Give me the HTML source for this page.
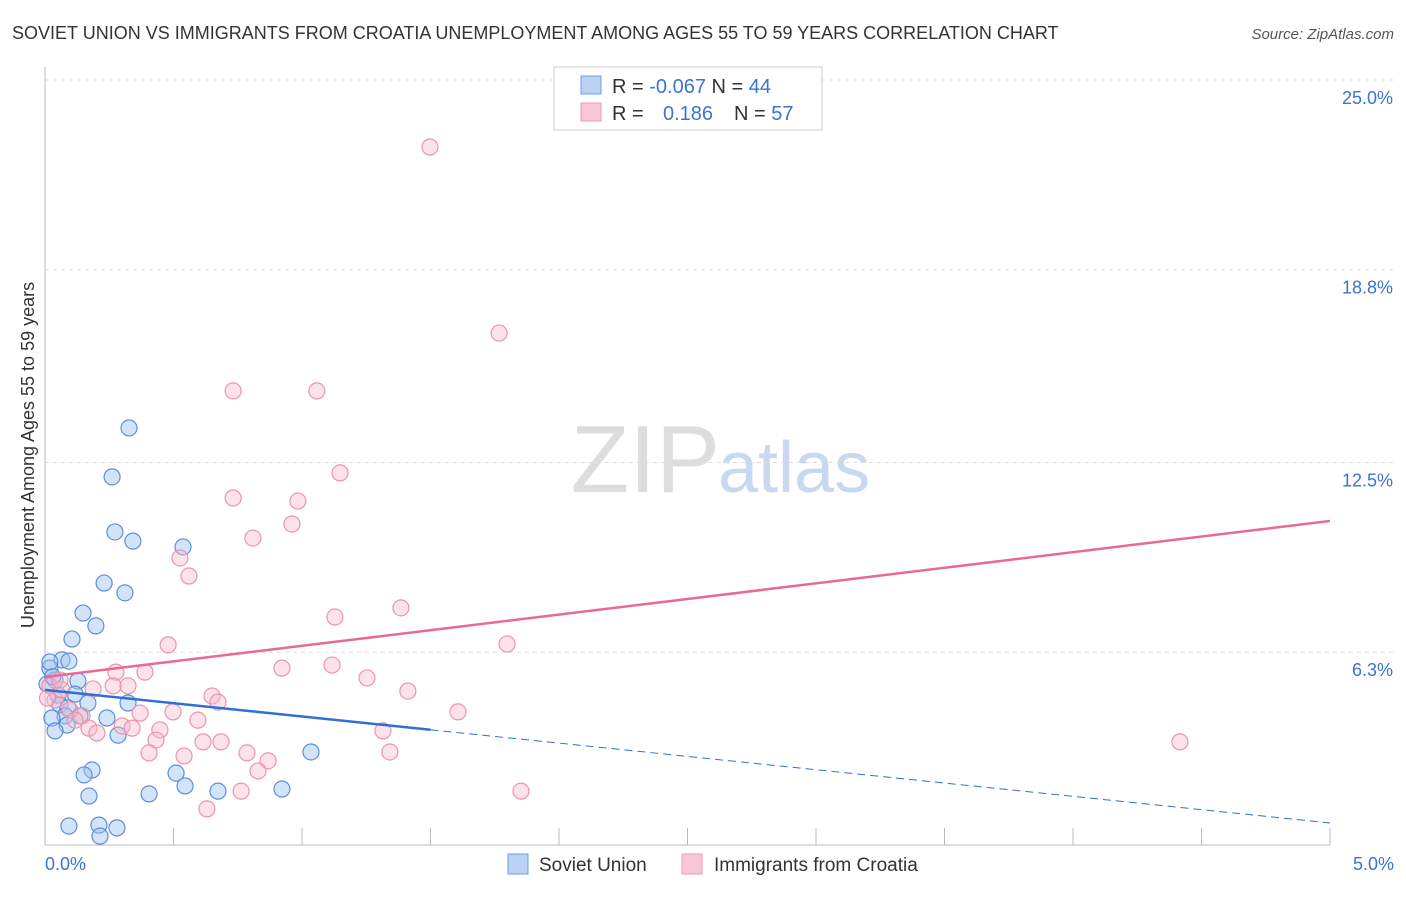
<!DOCTYPE html>
<html><head><meta charset="utf-8"><style>
body{margin:0;background:#fff;font-family:"Liberation Sans",sans-serif;}
svg text{font-family:"Liberation Sans",sans-serif;}
</style></head><body>
<svg width="1406" height="892" viewBox="0 0 1406 892">
<text x="12" y="39" font-size="18" fill="#333">SOVIET UNION VS IMMIGRANTS FROM CROATIA UNEMPLOYMENT AMONG AGES 55 TO 59 YEARS CORRELATION CHART</text>
<text x="1394" y="39" font-size="15" fill="#555" font-style="italic" text-anchor="end">Source: ZipAtlas.com</text>
<text x="720" y="492" font-size="96" fill="#ddd" text-anchor="end" font-family="Liberation Serif">ZIP</text>
<text x="718" y="492" font-size="72" fill="#c8d8f0">atlas</text>
<g id="grid"></g>
<g id="marks"></g>
<text transform="translate(34,455) rotate(-90)" font-size="18" fill="#333" text-anchor="middle">Unemployment Among Ages 55 to 59 years</text>
<text x="45" y="870" font-size="18" fill="#3b74d1">0.0%</text>
<text x="1394" y="870" font-size="18" fill="#3b74d1" text-anchor="end">5.0%</text>
<g>
<rect x="554" y="67" width="268" height="63" fill="#fff" stroke="#ccc"/>
<rect x="581" y="76" width="20" height="18" fill="#b9d2f5" stroke="#6f9ee0"/>
<rect x="581" y="103" width="20" height="18" fill="#f9c6d4" stroke="#ec99b2"/>
<text x="612" y="93" font-size="20" fill="#333">R = <tspan fill="#3b74d1">-0.067</tspan>   N = <tspan fill="#3b74d1">44</tspan></text>
<text x="612" y="120" font-size="20" fill="#333">R =   <tspan fill="#3b74d1" x="663">0.186</tspan>   <tspan x="734">N =</tspan> <tspan fill="#3b74d1">57</tspan></text>
</g>
<g>
<rect x="508" y="854" width="20" height="20" fill="#b9d2f5" stroke="#6f9ee0"/>
<text x="539" y="871" font-size="19" fill="#333">Soviet Union</text>
<rect x="682" y="854" width="20" height="20" fill="#f9c6d4" stroke="#ec99b2"/>
<text x="714" y="871" font-size="19" fill="#333">Immigrants from Croatia</text>
</g>
</svg>
<script>
const yTicks=[6.3,12.5,18.8,25.0];
const yTickLabels=["6.3%","12.5%","18.8%","25.0%"];
const blueX=[0.327,0.261,0.272,0.342,0.537,0.230,0.311,0.148,0.198,0.105,0.066,0.093,0.019,0.039,0.128,0.008,0.051,0.117,0.167,0.058,0.089,0.323,0.241,0.136,0.078,0.027,0.086,0.039,0.284,1.035,0.183,0.152,0.510,0.545,0.171,0.405,0.673,0.922,0.093,0.210,0.280,0.214,0.019,0.030];
const blueY=[13.63,12.03,10.23,9.93,9.74,8.56,8.24,7.58,7.16,6.73,6.05,6.01,5.78,5.39,5.36,5.26,4.90,4.93,4.64,4.58,4.48,4.64,4.15,4.22,4.22,4.15,3.92,3.73,3.59,3.04,2.45,2.29,2.35,1.93,1.60,1.67,1.76,1.83,0.62,0.65,0.56,0.29,5.98,5.50];
const pinkX=[1.498,1.767,0.732,1.058,1.148,0.732,0.984,0.961,0.809,0.525,0.560,1.385,1.128,0.479,1.798,0.922,1.117,0.276,0.389,1.253,0.265,0.323,0.187,1.412,0.650,0.673,0.144,0.370,0.498,1.607,0.595,0.300,0.171,0.339,0.447,1.315,0.202,0.432,0.615,0.685,4.416,0.405,0.541,0.786,1.342,0.868,0.829,0.763,1.852,0.630,0.039,0.066,0.019,0.097,0.058,0.117,0.010];
const pinkY=[22.81,16.73,14.84,14.84,12.16,11.34,11.24,10.49,10.03,9.38,8.79,7.75,7.45,6.54,6.57,5.78,5.88,5.65,5.65,5.46,5.20,5.20,5.10,5.03,4.87,4.67,4.22,4.31,4.35,4.35,4.08,3.89,3.82,3.82,3.76,3.73,3.66,3.43,3.37,3.37,3.37,3.01,2.91,3.01,3.04,2.75,2.42,1.76,1.76,1.18,4.74,5.07,5.20,4.41,5.39,4.08,4.80];
const pinkTrend=[5.49,10.59];
const blueTrend=[5.07,0.72];
const blueSolidEnd=1.5;
const NS="http://www.w3.org/2000/svg";
const X=v=>45+v/5*1285, Y=v=>845-v*30.6;
const grid=document.getElementById('grid'), marks=document.getElementById('marks');
function mk(tag,at,parent){const e=document.createElementNS(NS,tag);for(const k in at)e.setAttribute(k,at[k]);parent.appendChild(e);return e;}
let ax=mk('line',{x1:45,y1:67,x2:45,y2:845,stroke:'#bbb'},grid);


let bx=mk('line',{x1:45,y1:845,x2:1330,y2:845,stroke:'#bbb'},grid);


for(let i=1;i<=10;i++){let t=mk('line',{x1:45+i*128.5,y1:828,x2:45+i*128.5,y2:845,stroke:'#bbb'},grid);

}
yTicks.forEach((v,i)=>{let g=mk('line',{x1:45,x2:1394,y1:Y(v),y2:Y(v),stroke:'#ddd','stroke-dasharray':'4,4'},grid);


let t=mk('text',{x:1393,y:Y(v)+24,'font-size':18,fill:'#3b74d1','text-anchor':'end'},grid);t.textContent=yTickLabels[i];

});
const blueAt=x=>blueTrend[0]+(blueTrend[1]-blueTrend[0])*x/5;
blueX.forEach((x,i)=>{let c=mk('circle',{cx:X(x),cy:Y(blueY[i]),r:8,fill:'rgba(160,195,240,0.45)',stroke:'#5b8fd9','stroke-width':1.2},marks);

});
pinkX.forEach((x,i)=>{let c=mk('circle',{cx:X(x),cy:Y(pinkY[i]),r:8,fill:'rgba(248,185,205,0.4)',stroke:'#ec93ae','stroke-width':1.2},marks);

});
let pl=mk('line',{x1:X(0),y1:Y(pinkTrend[0]),x2:X(5),y2:Y(pinkTrend[1]),stroke:'#e8689a','stroke-width':2.5},marks);


let bl=mk('line',{x1:X(0),y1:Y(blueAt(0)),x2:X(blueSolidEnd),y2:Y(blueAt(blueSolidEnd)),stroke:'#2f6fd6','stroke-width':2.5},marks);


let bd=mk('line',{x1:X(blueSolidEnd),y1:Y(blueAt(blueSolidEnd)),x2:X(5),y2:Y(blueAt(5)),stroke:'#2f6fd6','stroke-width':1,'stroke-dasharray':'8,5'},marks);


</script>
</body></html>
